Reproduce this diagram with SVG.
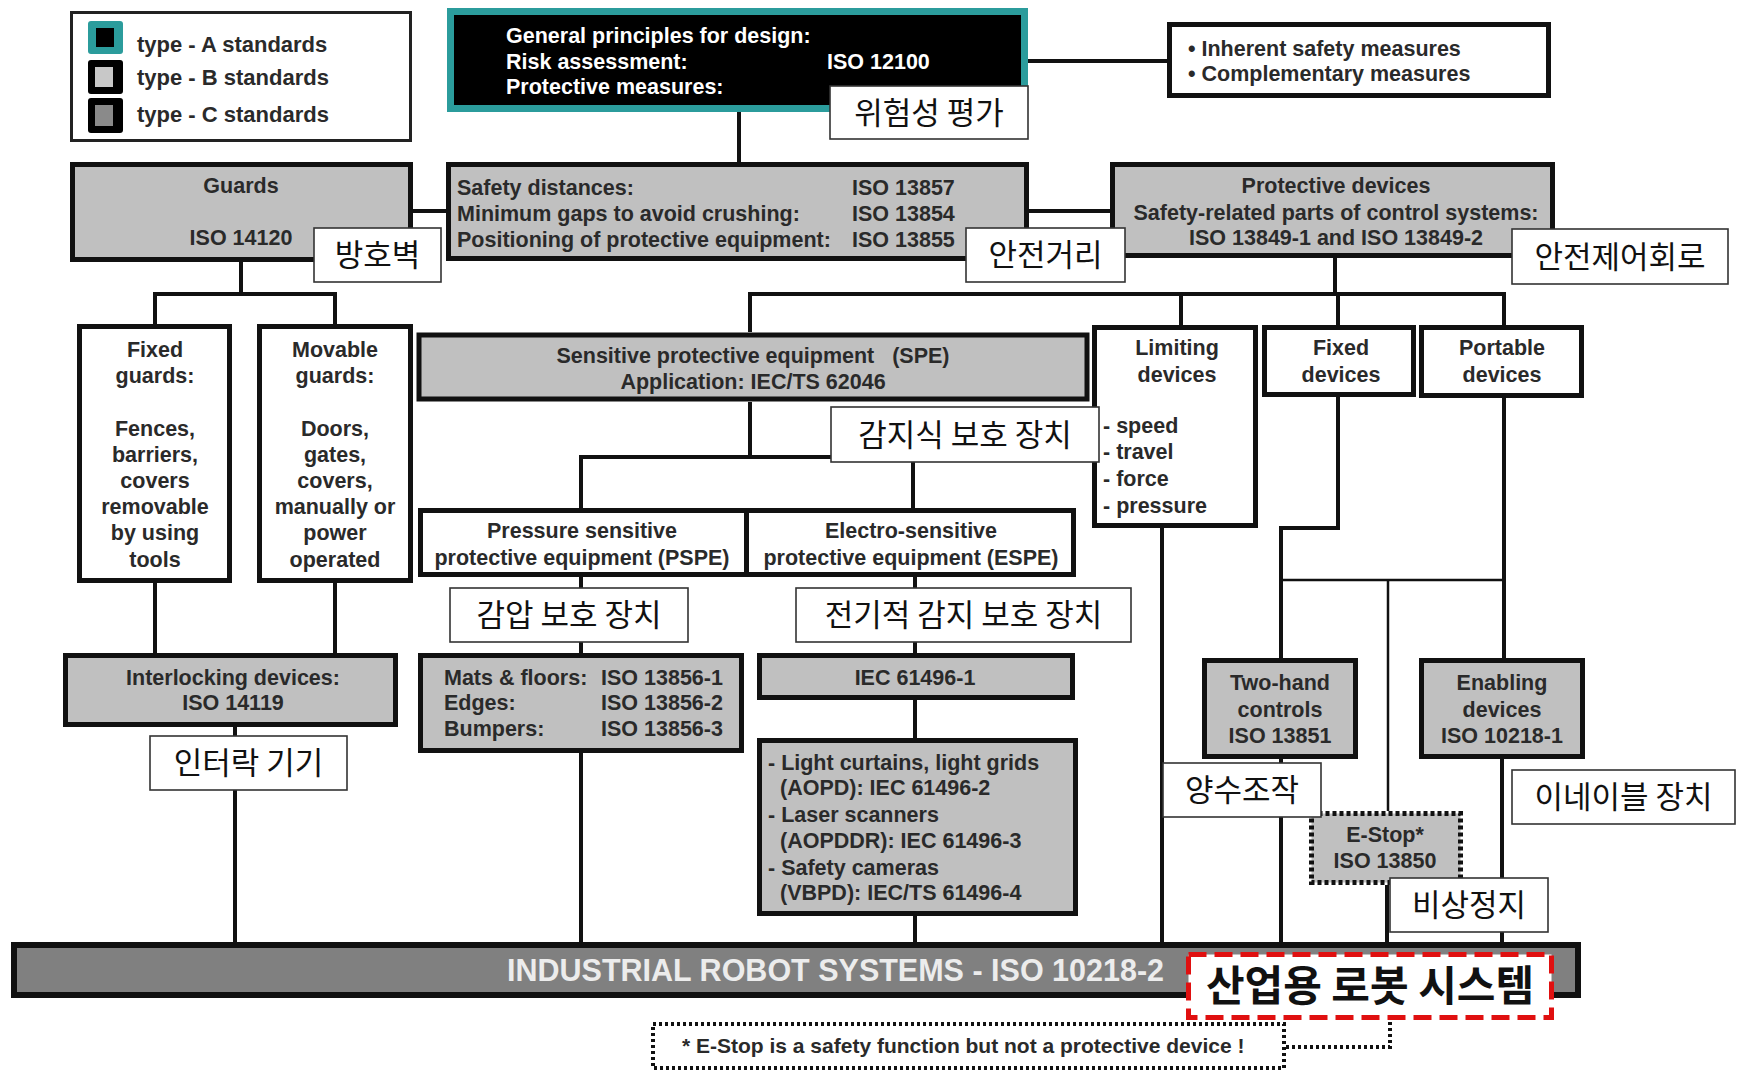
<svg xmlns="http://www.w3.org/2000/svg" width="1738" height="1072" viewBox="0 0 1738 1072">
  <style>
    .t { font-family: "Liberation Sans", Arial, sans-serif; font-weight: bold; font-size: 21.5px; fill: #2a2a2a; }
    .c { text-anchor: middle; }
    .w { fill: #ffffff; }
    .k { font-family: "Noto Sans CJK KR", "Noto Sans", sans-serif; font-size: 31px; fill: #111; text-anchor: middle; }
    .gray { fill: #c0c0c0; stroke: #111; stroke-width: 5; }
    .white { fill: #ffffff; stroke: #111; stroke-width: 5; }
    .lbl { fill: #ffffff; stroke: #333; stroke-width: 1.6; }
    .wire { stroke: #111; stroke-width: 4; fill: none; }
    .thin { stroke: #111; stroke-width: 2.5; fill: none; }
    .dot { stroke: #111; stroke-width: 4; fill: none; stroke-dasharray: 3 3; }
  </style>

  <rect width="1738" height="1072" fill="#ffffff"/>

  <!-- connectors -->
  <g id="connectors">
    <line class="wire" x1="739" y1="112" x2="739" y2="162"/>
    <line class="wire" x1="1028" y1="61" x2="1167" y2="61"/>
    <line class="wire" x1="413" y1="211" x2="446" y2="211"/>
    <line class="wire" x1="1029" y1="211" x2="1110" y2="211"/>
    <!-- guards branch -->
    <path class="wire" d="M241 262 V294 M153 294 H337 M155 294 V324 M335 294 V324"/>
    <path class="wire" d="M155 583 V653 M335 583 V653"/>
    <line class="wire" x1="235" y1="727" x2="235" y2="942"/>
    <!-- protective devices branch -->
    <path class="wire" d="M1335 258 V294 M748 294 H1506 M750 294 V332 M1181 294 V325 M1338 294 V325 M1504 294 V325"/>
    <!-- SPE branch -->
    <path class="wire" d="M750 402 V457 M579 457 H915 M581 457 V508 M913 457 V508"/>
    <path class="wire" d="M581 577 V653 M581 753 V942"/>
    <path class="wire" d="M915 577 V653 M915 700 V738 M915 916 V942"/>
    <!-- limiting / fixed / portable -->
    <line class="wire" x1="1162" y1="528" x2="1162" y2="942"/>
    <path class="wire" d="M1338 397 V528 H1281 V658"/>
    <line class="thin" x1="1281" y1="580" x2="1504" y2="580"/>
    <line class="wire" x1="1281" y1="759" x2="1281" y2="942"/>
    <line class="wire" x1="1504" y1="398" x2="1504" y2="658"/>
    <line class="wire" x1="1502" y1="759" x2="1502" y2="942"/>
    <line class="thin" x1="1388" y1="580" x2="1388" y2="811"/>
    <line class="wire" x1="1387" y1="885" x2="1387" y2="942"/>
    <path class="dot" d="M1286 1047 H1390 V1020"/>
  </g>

  <!-- legend -->
  <g id="legend">
    <rect x="71.5" y="12.5" width="339" height="128" fill="#fff" stroke="#222" stroke-width="3"/>
    <rect x="88" y="21" width="35" height="33" rx="3" fill="#2b9c9c"/>
    <rect x="96" y="28" width="18" height="19" fill="#000"/>
    <rect x="88" y="60" width="35" height="34" rx="3" fill="#000"/>
    <rect x="95" y="67" width="18" height="20" fill="#c8c8c8"/>
    <rect x="88" y="98" width="35" height="35" rx="3" fill="#000"/>
    <rect x="95" y="105" width="18" height="21" fill="#8a8a8a"/>
    <text class="t" x="137" y="52" style="font-size:22px">type - A standards</text>
    <text class="t" x="137" y="85" style="font-size:22px">type - B standards</text>
    <text class="t" x="137" y="122" style="font-size:22px">type - C standards</text>
  </g>

  <g id="general-principles">
    <rect x="447" y="8" width="581" height="104" fill="#2b9c9c"/>
    <rect x="454" y="15" width="567" height="90" fill="#000"/>
    <text class="t w" x="506" y="43">General principles for design:</text>
    <text class="t w" x="506" y="69">Risk assessment:</text>
    <text class="t w" x="827" y="69">ISO 12100</text>
    <text class="t w" x="506" y="94">Protective measures:</text>
  </g>

  <g id="measures">
    <rect class="white" x="1169.5" y="24.5" width="379" height="71"/>
    <text class="t" x="1188" y="56">• Inherent safety measures</text>
    <text class="t" x="1188" y="81">• Complementary measures</text>
  </g>

  <g id="guards">
    <rect class="gray" x="72.5" y="164.5" width="338" height="95"/>
    <text class="t c" x="241" y="193">Guards</text>
    <text class="t c" x="241" y="245">ISO 14120</text>
  </g>

  <g id="safety-distances">
    <rect class="gray" x="448.5" y="164.5" width="578" height="94"/>
    <text class="t" x="457" y="195">Safety distances:</text>
    <text class="t" x="457" y="221">Minimum gaps to avoid crushing:</text>
    <text class="t" x="457" y="247">Positioning of protective equipment:</text>
    <text class="t" x="852" y="195">ISO 13857</text>
    <text class="t" x="852" y="221">ISO 13854</text>
    <text class="t" x="852" y="247">ISO 13855</text>
  </g>

  <g id="protective-devices">
    <rect class="gray" x="1112.5" y="164.5" width="440" height="91"/>
    <text class="t c" x="1336" y="193">Protective devices</text>
    <text class="t c" x="1336" y="220">Safety-related parts of control systems:</text>
    <text class="t c" x="1336" y="245">ISO 13849-1 and ISO 13849-2</text>
  </g>

  <g id="fixed-guards">
    <rect class="white" x="79.5" y="326.5" width="150" height="254"/>
    <text class="t c" x="155" y="357">Fixed</text>
    <text class="t c" x="155" y="383">guards:</text>
    <text class="t c" x="155" y="436">Fences,</text>
    <text class="t c" x="155" y="462">barriers,</text>
    <text class="t c" x="155" y="488">covers</text>
    <text class="t c" x="155" y="514">removable</text>
    <text class="t c" x="155" y="540">by using</text>
    <text class="t c" x="155" y="567">tools</text>
  </g>

  <g id="movable-guards">
    <rect class="white" x="259.5" y="326.5" width="151" height="254"/>
    <text class="t c" x="335" y="357">Movable</text>
    <text class="t c" x="335" y="383">guards:</text>
    <text class="t c" x="335" y="436">Doors,</text>
    <text class="t c" x="335" y="462">gates,</text>
    <text class="t c" x="335" y="488">covers,</text>
    <text class="t c" x="335" y="514">manually or</text>
    <text class="t c" x="335" y="540">power</text>
    <text class="t c" x="335" y="567">operated</text>
  </g>

  <g id="spe">
    <rect class="gray" x="419" y="335" width="668" height="64" stroke-width="6"/>
    <text class="t c" x="753" y="363" xml:space="preserve">Sensitive protective equipment   (SPE)</text>
    <text class="t c" x="753" y="389">Application: IEC/TS 62046</text>
  </g>

  <g id="limiting-devices">
    <rect class="white" x="1094.5" y="327.5" width="161" height="198"/>
    <text class="t c" x="1177" y="355">Limiting</text>
    <text class="t c" x="1177" y="382">devices</text>
    <text class="t" x="1103" y="433">- speed</text>
    <text class="t" x="1103" y="459">- travel</text>
    <text class="t" x="1103" y="486">- force</text>
    <text class="t" x="1103" y="513">- pressure</text>
  </g>

  <g id="fixed-devices">
    <rect class="white" x="1264.5" y="327.5" width="149" height="67"/>
    <text class="t c" x="1341" y="355">Fixed</text>
    <text class="t c" x="1341" y="382">devices</text>
  </g>

  <g id="portable-devices">
    <rect class="white" x="1421.5" y="327.5" width="160" height="68"/>
    <text class="t c" x="1502" y="355">Portable</text>
    <text class="t c" x="1502" y="382">devices</text>
  </g>

  <g id="pspe">
    <rect class="white" x="420.5" y="510.5" width="326" height="64"/>
    <text class="t c" x="582" y="538">Pressure sensitive</text>
    <text class="t c" x="582" y="565">protective equipment (PSPE)</text>
  </g>

  <g id="espe">
    <rect class="white" x="746.5" y="510.5" width="327" height="64"/>
    <text class="t c" x="911" y="538">Electro-sensitive</text>
    <text class="t c" x="911" y="565">protective equipment (ESPE)</text>
  </g>

  <g id="interlocking">
    <rect class="gray" x="65.5" y="655.5" width="330" height="69"/>
    <text class="t c" x="233" y="685">Interlocking devices:</text>
    <text class="t c" x="233" y="710">ISO 14119</text>
  </g>

  <g id="pspe-standards">
    <rect class="gray" x="420.5" y="655.5" width="321" height="95"/>
    <text class="t" x="444" y="685">Mats &amp; floors:</text>
    <text class="t" x="444" y="710">Edges:</text>
    <text class="t" x="444" y="736">Bumpers:</text>
    <text class="t" x="601" y="685">ISO 13856-1</text>
    <text class="t" x="601" y="710">ISO 13856-2</text>
    <text class="t" x="601" y="736">ISO 13856-3</text>
  </g>

  <g id="iec-61496-1">
    <rect class="gray" x="759.5" y="655.5" width="313" height="42"/>
    <text class="t c" x="915" y="685">IEC 61496-1</text>
  </g>

  <g id="espe-types">
    <rect class="gray" x="759.5" y="740.5" width="316" height="173"/>
    <text class="t" x="768" y="770">- Light curtains, light grids</text>
    <text class="t" x="780" y="795">(AOPD): IEC 61496-2</text>
    <text class="t" x="768" y="822">- Laser scanners</text>
    <text class="t" x="780" y="848">(AOPDDR): IEC 61496-3</text>
    <text class="t" x="768" y="875">- Safety cameras</text>
    <text class="t" x="780" y="900">(VBPD): IEC/TS 61496-4</text>
  </g>

  <g id="two-hand">
    <rect class="gray" x="1204.5" y="660.5" width="151" height="96"/>
    <text class="t c" x="1280" y="690">Two-hand</text>
    <text class="t c" x="1280" y="717">controls</text>
    <text class="t c" x="1280" y="743">ISO 13851</text>
  </g>

  <g id="enabling">
    <rect class="gray" x="1421.5" y="660.5" width="161" height="96"/>
    <text class="t c" x="1502" y="690">Enabling</text>
    <text class="t c" x="1502" y="717">devices</text>
    <text class="t c" x="1502" y="743">ISO 10218-1</text>
  </g>

  <g id="e-stop">
    <rect x="1311.5" y="813.5" width="149" height="69" fill="#c0c0c0" stroke="#111" stroke-width="5" stroke-dasharray="4 3"/>
    <text class="t c" x="1385" y="842">E-Stop*</text>
    <text class="t c" x="1385" y="868">ISO 13850</text>
  </g>

  <g id="robot-systems">
    <rect x="14" y="945" width="1564" height="50" fill="#808080" stroke="#111" stroke-width="6"/>
    <text class="t" x="507" y="981" style="font-size:30.5px;fill:#ececec">INDUSTRIAL ROBOT SYSTEMS - ISO 10218-2</text>
  </g>

  <g id="footnote">
    <rect x="653" y="1024" width="631" height="44" fill="#fff" stroke="#111" stroke-width="4" stroke-dasharray="3 3"/>
    <text class="t" x="682" y="1053" style="font-size:21px">* E-Stop is a safety function but not a protective device !</text>
  </g>

  <!-- Korean captions -->
  <g id="captions">
    <g id="cap-risk"><rect class="lbl" x="830" y="86" width="198" height="53"/><text class="k" x="929" y="124">위험성 평가</text></g>
    <g id="cap-guards"><rect class="lbl" x="314" y="228" width="127" height="54"/><text class="k" x="377.5" y="266">방호벽</text></g>
    <g id="cap-distance"><rect class="lbl" x="966" y="228" width="159" height="54"/><text class="k" x="1045.5" y="266">안전거리</text></g>
    <g id="cap-control"><rect class="lbl" x="1512" y="229" width="216" height="55"/><text class="k" x="1620" y="268">안전제어회로</text></g>
    <g id="cap-spe"><rect class="lbl" x="831" y="407" width="268" height="55"/><text class="k" x="965" y="446">감지식 보호 장치</text></g>
    <g id="cap-pspe"><rect class="lbl" x="450" y="588" width="238" height="54"/><text class="k" x="569" y="626">감압 보호 장치</text></g>
    <g id="cap-espe"><rect class="lbl" x="796" y="588" width="335" height="54"/><text class="k" x="963.5" y="626">전기적 감지 보호 장치</text></g>
    <g id="cap-interlock"><rect class="lbl" x="150" y="736" width="197" height="54"/><text class="k" x="248.5" y="774">인터락 기기</text></g>
    <g id="cap-twohand"><rect class="lbl" x="1163" y="763" width="158" height="54"/><text class="k" x="1242" y="801">양수조작</text></g>
    <g id="cap-enabling"><rect class="lbl" x="1512" y="770" width="223" height="54"/><text class="k" x="1623.5" y="808">이네이블 장치</text></g>
    <g id="cap-estop"><rect class="lbl" x="1390" y="878" width="158" height="54"/><text class="k" x="1469" y="916">비상정지</text></g>
    <g id="cap-robot">
      <rect x="1188.5" y="954.5" width="363" height="63" fill="#fff" stroke="#e01010" stroke-width="5" stroke-dasharray="18 8"/>
      <text class="k" x="1370" y="1001" style="font-size:42px;font-weight:bold">산업용 로봇 시스템</text>
    </g>
  </g>
</svg>
